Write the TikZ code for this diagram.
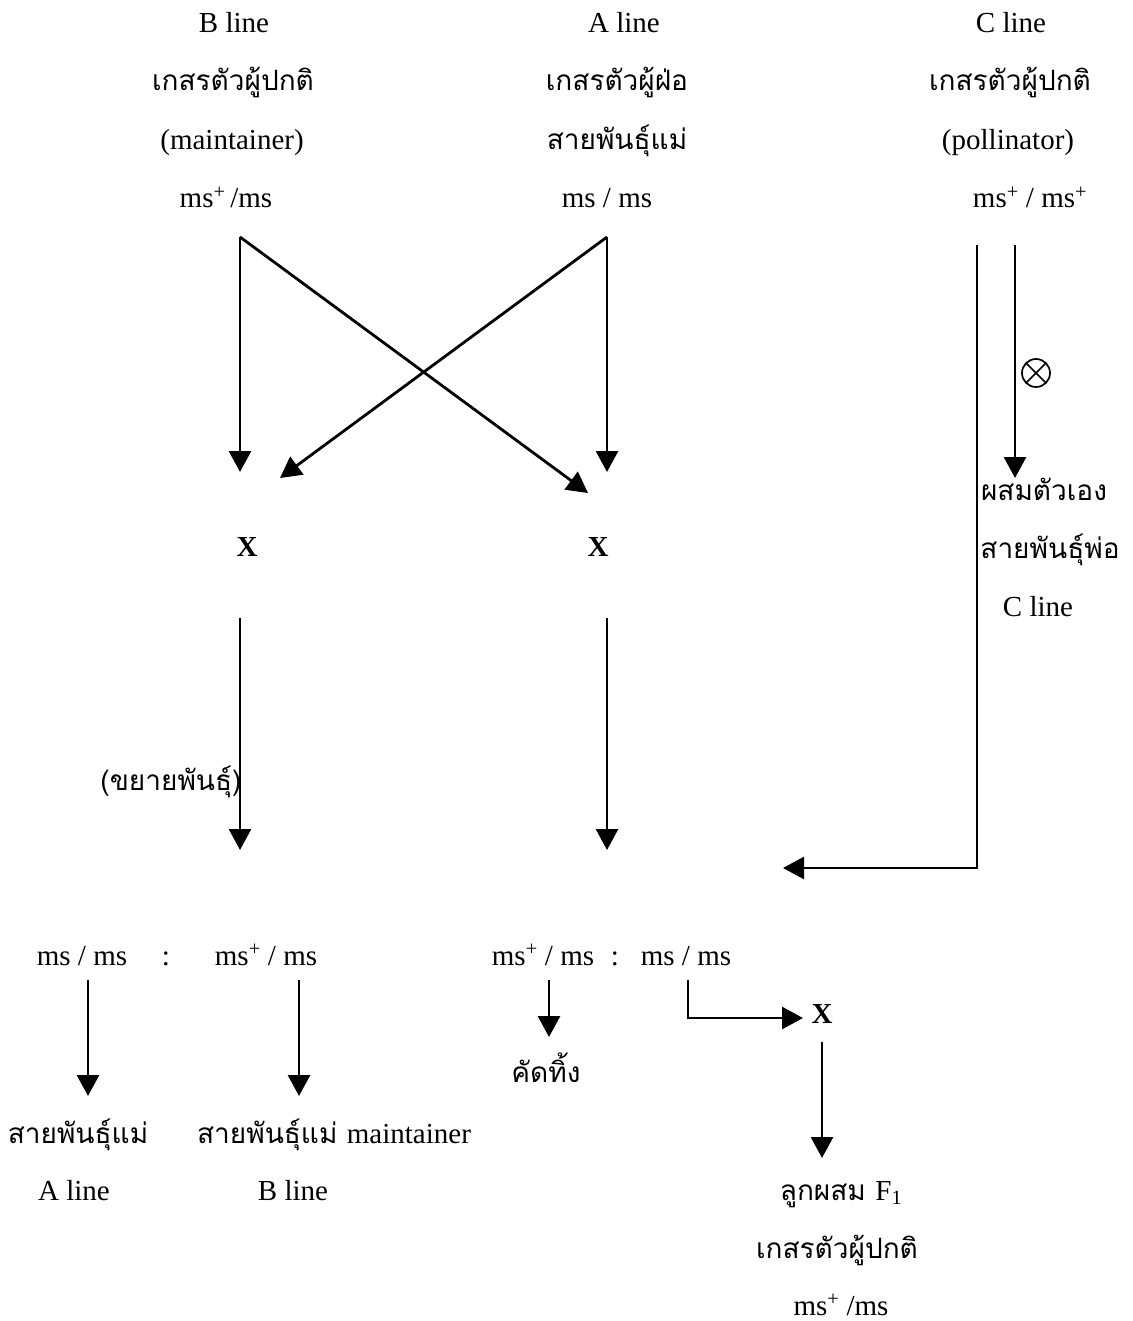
\documentclass[tikz,border=0pt]{standalone}
\usepackage{fontspec}
\setmainfont{Liberation Serif}
\newfontfamily\thai[Script=Thai]{Loma}
\usetikzlibrary{arrows.meta}

\begin{document}
\begin{tikzpicture}[x=1pt,y=-1pt,
  lbl/.style={anchor=base,inner sep=0pt,font=\fontsize{29}{34}\selectfont},
  th/.style={anchor=base,inner sep=0pt,font=\fontsize{28}{34}\selectfont\thai},
  cross/.style={anchor=base,inner sep=0pt,font=\fontsize{29}{34}\selectfont\bfseries},
  flow/.style={line width=2.8pt,-{Triangle[length=21pt,width=22pt]}},
  selfmark/.style={circle,draw,line width=1.7pt,minimum size=28pt,inner sep=0pt,
    path picture={\draw[line width=1.7pt]
      (path picture bounding box.north west) -- (path picture bounding box.south east)
      (path picture bounding box.north east) -- (path picture bounding box.south west);}}]

\useasboundingbox (0,0) rectangle (1132,1321);

% ---- parent lines ----
\node[lbl] (bName) at (234,33)  {B line};
\node[th]  (bPhen) at (233,91)  {เกสรตัวผู้ปกติ};
\node[lbl] (bRole) at (232,150) {(maintainer)};
\node[lbl] (bGeno) at (226,208) {ms\textsuperscript{+}\,/ms};

\node[lbl] (aName) at (624,33)  {A line};
\node[th]  (aPhen) at (617,91)  {เกสรตัวผู้ฝ่อ};
\node[th]  (aRole) at (617,150) {สายพันธุ์แม่};
\node[lbl] (aGeno) at (607,208) {ms / ms};

\node[lbl] (cName) at (1011,33)  {C line};
\node[th]  (cPhen) at (1010,91)  {เกสรตัวผู้ปกติ};
\node[lbl] (cRole) at (1008,150) {(pollinator)};
\node[lbl] (cGeno) at (1030,208) {ms\textsuperscript{+} / ms\textsuperscript{+}};

% ---- crosses ----
\coordinate (bOut) at (240,237);
\coordinate (aOut) at (607,237);
\coordinate (bIn)  at (240,472);
\coordinate (aIn)  at (607,472);
\coordinate (bToA) at (588,493);
\coordinate (aToB) at (280,478);

\draw[flow] (bOut) -- (bIn);
\draw[flow] (bOut) -- (bToA);
\draw[flow] (aOut) -- (aIn);
\draw[flow] (aOut) -- (aToB);

\node[cross] (xB) at (247,556) {X};
\node[cross] (xA) at (598,556) {X};

\coordinate (xBout) at (240,618);
\coordinate (xBin)  at (240,850);
\coordinate (xAout) at (607,618);
\coordinate (xAin)  at (607,850);
\draw[flow] (xBout) -- (xBin);
\draw[flow] (xAout) -- (xAin);
\node[th] (multiply) at (171,790) {(ขยายพันธุ์)};

% ---- pollinator line ----
\coordinate (cOutL)   at (977,245);
\coordinate (cCorner) at (977,868);
\coordinate (cEnd)    at (783,868);
\draw[flow] (cOutL) -- (cCorner) -- (cEnd);

\coordinate (cOutR) at (1015,245);
\coordinate (cSelf) at (1015,478);
\draw[flow] (cOutR) -- (cSelf);
\node[selfmark] (selfing) at (1036,373) {};

\node[th]  (cSelf1) at (1044,500) {ผสมตัวเอง};
\node[th]  (cSelf2) at (1050,558) {สายพันธุ์พ่อ};
\node[lbl] (cSelf3) at (1038,616) {C line};

% ---- progeny of B x A ----
\node[lbl] (lSter)  at (82,965)  {ms / ms};
\node[lbl] (lColon) at (166,965) {:};
\node[lbl] (lFert)  at (266,965) {ms\textsuperscript{+} / ms};

\coordinate (lSterOut) at (88,980);
\coordinate (lSterIn)  at (88,1096);
\coordinate (lFertOut) at (299,980);
\coordinate (lFertIn)  at (299,1096);
\draw[flow] (lSterOut) -- (lSterIn);
\draw[flow] (lFertOut) -- (lFertIn);

\node[th]  (lRes1) at (78,1143) {สายพันธุ์แม่};
\node[th]  (lRes2) at (334,1143) {สายพันธุ์แม่ {\rmfamily\fontsize{29}{34}\selectfont maintainer}};
\node[lbl] (lRes1b) at (74,1200) {A line};
\node[lbl] (lRes2b) at (293,1200) {B line};

% ---- progeny of A x B ----
\node[lbl] (rFert)  at (543,965) {ms\textsuperscript{+} / ms};
\node[lbl] (rColon) at (615,965) {:};
\node[lbl] (rSter)  at (686,965) {ms / ms};

\coordinate (rFertOut) at (549,980);
\coordinate (rFertIn)  at (549,1037);
\draw[flow] (rFertOut) -- (rFertIn);
\node[th] (discard) at (546,1082) {คัดทิ้ง};

\node[cross] (xF) at (822,1023) {X};
\coordinate (rSterOut) at (688,980);
\coordinate (rSterBend) at (688,1018);
\coordinate (xFin) at (803,1018);
\draw[flow] (rSterOut) -- (rSterBend) -- (xFin);

\coordinate (xFout) at (822,1042);
\coordinate (hybIn) at (822,1158);
\draw[flow] (xFout) -- (hybIn);

\node[th]  (hyb1) at (841,1200) {ลูกผสม {\rmfamily\fontsize{29}{34}\selectfont F\textsubscript{1}}};
\node[th]  (hyb2) at (837,1258) {เกสรตัวผู้ปกติ};
\node[lbl] (hyb3) at (841,1315) {ms\textsuperscript{+} /ms};

\end{tikzpicture}
\end{document}
